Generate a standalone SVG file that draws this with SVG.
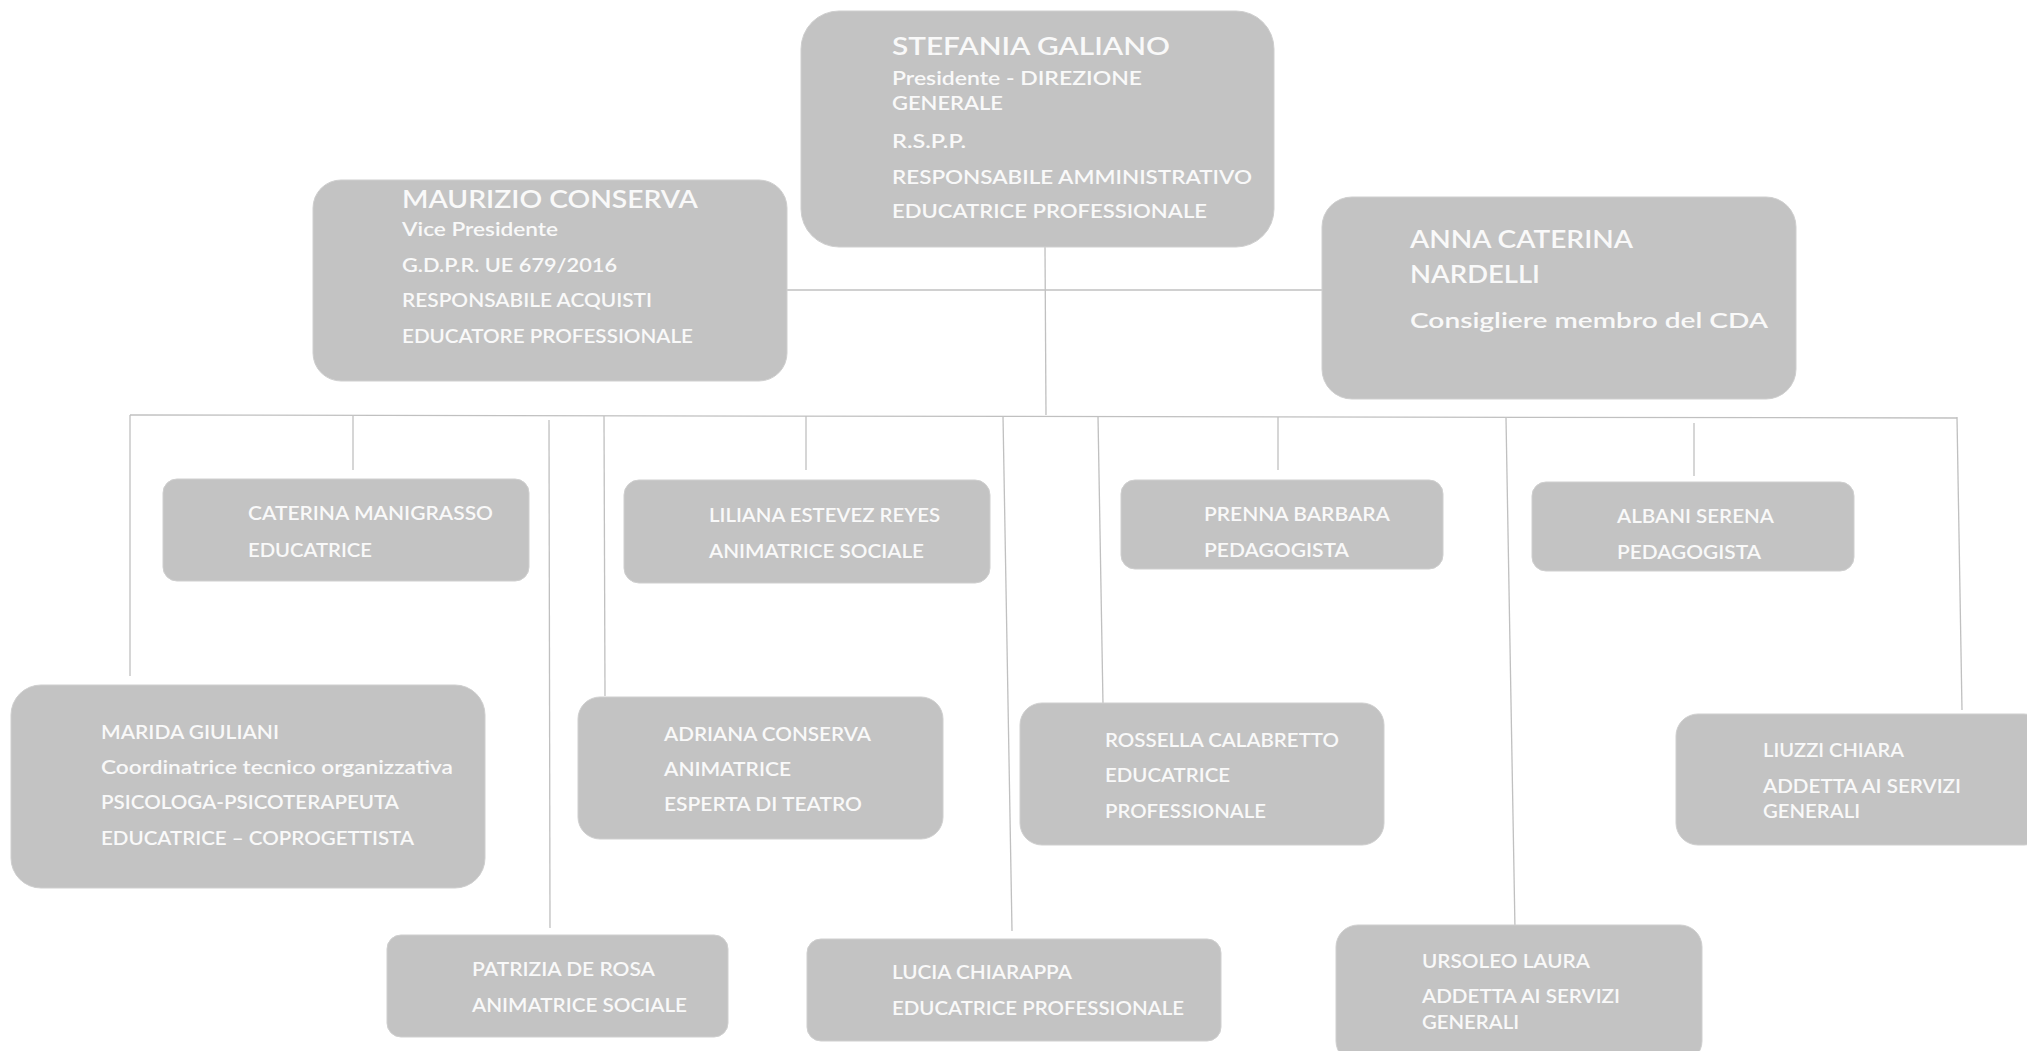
<svg xmlns="http://www.w3.org/2000/svg" width="2027" height="1051" viewBox="0 0 2027 1051">
<style>
.box{fill:#c3c3c3;stroke:#cfcfcf;stroke-width:1}
.t{font-family:Lato,"Open Sans","Liberation Sans",sans-serif;fill:#f9f9f9;font-size:19.5px;font-weight:600}
.big{font-size:24px}
.mid{font-size:21px}
.con line{stroke:#c0c0c0;stroke-width:1.3}
</style>
<rect width="2027" height="1051" fill="#ffffff"/>
<g class="con" id="connectors">
<line x1="1045" y1="247" x2="1046" y2="415"/>
<line x1="787" y1="290" x2="1322" y2="290"/>
<line x1="130" y1="415" x2="1957" y2="418"/>
<line x1="130" y1="415" x2="130" y2="676"/>
<line x1="353" y1="416" x2="353" y2="470"/>
<line x1="549" y1="420" x2="550" y2="928"/>
<line x1="604" y1="416" x2="605" y2="696"/>
<line x1="806" y1="416" x2="806" y2="470"/>
<line x1="1003" y1="416" x2="1012" y2="931"/>
<line x1="1098" y1="416" x2="1103" y2="704"/>
<line x1="1278" y1="417" x2="1278" y2="470"/>
<line x1="1506" y1="418" x2="1515" y2="930"/>
<line x1="1694" y1="423" x2="1694" y2="476"/>
<line x1="1957" y1="417" x2="1962" y2="710"/>
</g>
<g id="stefania">
<rect class="box" x="801" y="11" width="473" height="236" rx="38"/>
<text class="t big" x="892" y="55" textLength="278" lengthAdjust="spacingAndGlyphs">STEFANIA GALIANO</text>
<text class="t" x="892" y="85" textLength="250" lengthAdjust="spacingAndGlyphs">Presidente - DIREZIONE</text>
<text class="t" x="892" y="110" textLength="111" lengthAdjust="spacingAndGlyphs">GENERALE</text>
<text class="t" x="892" y="148" textLength="74" lengthAdjust="spacingAndGlyphs">R.S.P.P.</text>
<text class="t" x="892" y="184" textLength="360" lengthAdjust="spacingAndGlyphs">RESPONSABILE AMMINISTRATIVO</text>
<text class="t" x="892" y="218" textLength="315" lengthAdjust="spacingAndGlyphs">EDUCATRICE PROFESSIONALE</text>
</g>
<g id="maurizio">
<rect class="box" x="313" y="180" width="474" height="201" rx="28"/>
<text class="t big" x="402" y="208" textLength="296" lengthAdjust="spacingAndGlyphs">MAURIZIO CONSERVA</text>
<text class="t" x="402" y="236" textLength="156" lengthAdjust="spacingAndGlyphs">Vice Presidente</text>
<text class="t" x="402" y="272" textLength="215" lengthAdjust="spacingAndGlyphs">G.D.P.R. UE 679/2016</text>
<text class="t" x="402" y="307" textLength="250" lengthAdjust="spacingAndGlyphs">RESPONSABILE ACQUISTI</text>
<text class="t" x="402" y="343" textLength="291" lengthAdjust="spacingAndGlyphs">EDUCATORE PROFESSIONALE</text>
</g>
<g id="anna">
<rect class="box" x="1322" y="197" width="474" height="202" rx="30"/>
<text class="t big" x="1410" y="248" textLength="223" lengthAdjust="spacingAndGlyphs">ANNA CATERINA</text>
<text class="t big" x="1410" y="283" textLength="130" lengthAdjust="spacingAndGlyphs">NARDELLI</text>
<text class="t mid" x="1410" y="328" textLength="358" lengthAdjust="spacingAndGlyphs">Consigliere membro del CDA</text>
</g>
<g id="caterina">
<rect class="box" x="163" y="479" width="366" height="102" rx="14"/>
<text class="t" x="248" y="520" textLength="245" lengthAdjust="spacingAndGlyphs">CATERINA MANIGRASSO</text>
<text class="t" x="248" y="557" textLength="124" lengthAdjust="spacingAndGlyphs">EDUCATRICE</text>
</g>
<g id="liliana">
<rect class="box" x="624" y="480" width="366" height="103" rx="15"/>
<text class="t" x="709" y="522" textLength="231" lengthAdjust="spacingAndGlyphs">LILIANA ESTEVEZ REYES</text>
<text class="t" x="709" y="558" textLength="215" lengthAdjust="spacingAndGlyphs">ANIMATRICE SOCIALE</text>
</g>
<g id="prenna">
<rect class="box" x="1121" y="480" width="322" height="89" rx="14"/>
<text class="t" x="1204" y="521" textLength="186" lengthAdjust="spacingAndGlyphs">PRENNA BARBARA</text>
<text class="t" x="1204" y="557" textLength="145" lengthAdjust="spacingAndGlyphs">PEDAGOGISTA</text>
</g>
<g id="albani">
<rect class="box" x="1532" y="482" width="322" height="89" rx="14"/>
<text class="t" x="1617" y="523" textLength="157" lengthAdjust="spacingAndGlyphs">ALBANI SERENA</text>
<text class="t" x="1617" y="559" textLength="144" lengthAdjust="spacingAndGlyphs">PEDAGOGISTA</text>
</g>
<g id="marida">
<rect class="box" x="11" y="685" width="474" height="203" rx="30"/>
<text class="t" x="101" y="739" textLength="178" lengthAdjust="spacingAndGlyphs">MARIDA GIULIANI</text>
<text class="t" x="101" y="774" textLength="352" lengthAdjust="spacingAndGlyphs">Coordinatrice  tecnico organizzativa</text>
<text class="t" x="101" y="809" textLength="298" lengthAdjust="spacingAndGlyphs">PSICOLOGA-PSICOTERAPEUTA</text>
<text class="t" x="101" y="845" textLength="313" lengthAdjust="spacingAndGlyphs">EDUCATRICE – COPROGETTISTA</text>
</g>
<g id="adriana">
<rect class="box" x="578" y="697" width="365" height="142" rx="22"/>
<text class="t" x="664" y="741" textLength="207" lengthAdjust="spacingAndGlyphs">ADRIANA CONSERVA</text>
<text class="t" x="664" y="776" textLength="127" lengthAdjust="spacingAndGlyphs">ANIMATRICE</text>
<text class="t" x="664" y="811" textLength="198" lengthAdjust="spacingAndGlyphs">ESPERTA DI TEATRO</text>
</g>
<g id="rossella">
<rect class="box" x="1020" y="703" width="364" height="142" rx="22"/>
<text class="t" x="1105" y="747" textLength="234" lengthAdjust="spacingAndGlyphs">ROSSELLA CALABRETTO</text>
<text class="t" x="1105" y="782" textLength="125" lengthAdjust="spacingAndGlyphs">EDUCATRICE</text>
<text class="t" x="1105" y="818" textLength="161" lengthAdjust="spacingAndGlyphs">PROFESSIONALE</text>
</g>
<g id="liuzzi">
<rect class="box" x="1676" y="714" width="370" height="131" rx="22"/>
<text class="t" x="1763" y="757" textLength="141" lengthAdjust="spacingAndGlyphs">LIUZZI CHIARA</text>
<text class="t" x="1763" y="793" textLength="198" lengthAdjust="spacingAndGlyphs">ADDETTA AI SERVIZI</text>
<text class="t" x="1763" y="818" textLength="97" lengthAdjust="spacingAndGlyphs">GENERALI</text>
</g>
<g id="patrizia">
<rect class="box" x="387" y="935" width="341" height="102" rx="14"/>
<text class="t" x="472" y="976" textLength="183" lengthAdjust="spacingAndGlyphs">PATRIZIA DE ROSA</text>
<text class="t" x="472" y="1012" textLength="215" lengthAdjust="spacingAndGlyphs">ANIMATRICE SOCIALE</text>
</g>
<g id="lucia">
<rect class="box" x="807" y="939" width="414" height="102" rx="14"/>
<text class="t" x="892" y="979" textLength="180" lengthAdjust="spacingAndGlyphs">LUCIA CHIARAPPA</text>
<text class="t" x="892" y="1015" textLength="292" lengthAdjust="spacingAndGlyphs">EDUCATRICE PROFESSIONALE</text>
</g>
<g id="ursoleo">
<rect class="box" x="1336" y="925" width="366" height="138" rx="22"/>
<text class="t" x="1422" y="968" textLength="168" lengthAdjust="spacingAndGlyphs">URSOLEO LAURA</text>
<text class="t" x="1422" y="1003" textLength="198" lengthAdjust="spacingAndGlyphs">ADDETTA AI SERVIZI</text>
<text class="t" x="1422" y="1029" textLength="97" lengthAdjust="spacingAndGlyphs">GENERALI</text>
</g>
</svg>
